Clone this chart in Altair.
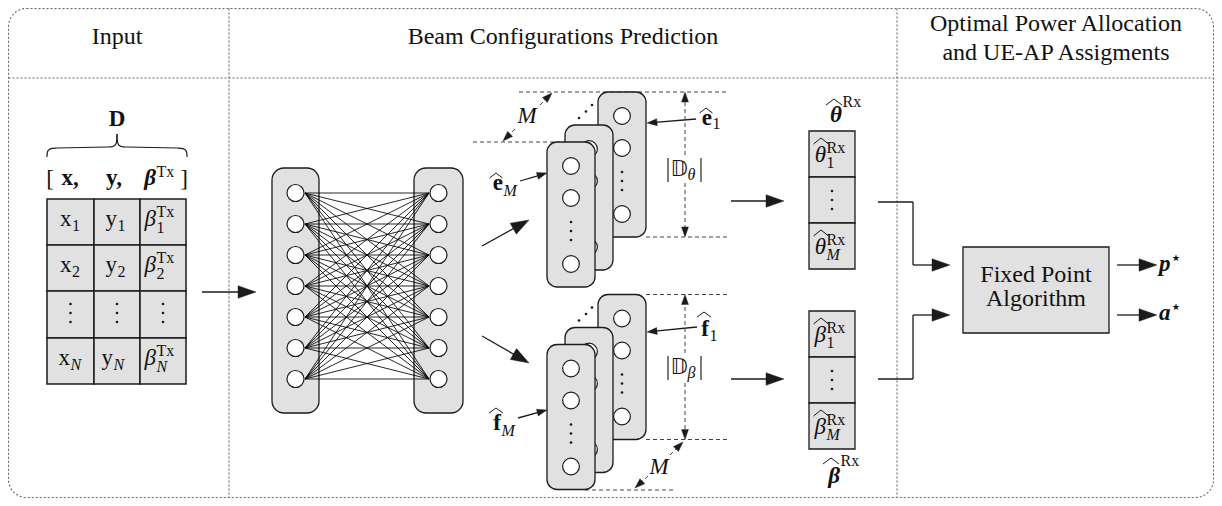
import math
import altair as alt
import pandas as pd

# ---------------- canvas (data units = page pixels) ----------------
W, H = 1206, 490
XD = [8, 1214]
YD = [8, 498]
SERIF = "Liberation Serif"
INK = "#1b1b1b"
FILL = "#e1e1e1"
DOTTED = "#666666"
HEAD = "M0,0L-1,-0.35L-1,0.35Z"

# ---------------- content arrays ----------------
header_text = ["Input", "Beam Configurations Prediction",
               "Optimal Power Allocation", "and UE-AP Assigments"]
header_x = [117, 563, 1056, 1056]
header_y = [44, 44, 31, 60]

frame_box = [8.5, 1213.5, 8.5, 497.5]
divider_x = [229, 897]
divider_y = [78]

table_cols = [47, 94, 140, 186]
table_rows = [199, 245, 291, 338, 384]
table_base = [226, 272, None, 365]
table_subs = ["1", "2", None, "N"]
table_dot_y = [304, 313, 322]

nn_blocks = [(272, 319, 168, 413), (414, 463, 168, 413)]
nn_x = [295.5, 438.5]
nn_y = [193, 224, 255, 286, 317, 348, 379]
nn_link_x = [305, 429]

card_order = ["back", "middle", "front"]
card_x0 = {"back": 598, "middle": 565, "front": 547}
card_top = {"back": 92, "middle": 125, "front": 142}
card_w, card_h = 48, 145
stack_shift = [0, 202.5]
card_node_dy = [24, 56, 122]
card_dot_dy = [80, 89, 98]
stack_dots = [(579, 118), (586, 111.5), (592, 105)]

vec_x = [809, 855]
vec_rows = [[131, 177, 223, 269], [311, 357, 403, 449]]
vec_letter = ["θ", "β"]
vec_base = [[162, None, 254], [342, None, 434]]
vec_subs = ["1", None, "M"]

fp_box = (963, 1109, 247, 333)
fp_text = ["Fixed Point", "Algorithm"]
fp_base = [282, 306]

big_arrows = [(202, 292, 256, 292), (482, 246, 529, 220), (482, 336, 529, 363),
              (731, 201, 784, 201), (731, 379, 784, 379),
              (913, 265, 950, 265), (913, 315, 950, 315),
              (1117, 265, 1157, 265), (1117, 315, 1157, 315)]
elbow_lines = [(878, 202, 913, 202), (913, 202, 913, 265),
               (878, 379, 913, 379), (913, 379, 913, 315)]
small_arrows = [(696, 119, 647, 123), (520, 181, 547, 173),
                (697, 327, 647, 332), (518, 418, 547, 410)]
dash_arrows = [(685, 155, 685, 92), (685, 183, 685, 237),
               (685, 353, 685, 294.5), (685, 383, 685, 439.5),
               (515, 129, 503, 141), (540, 105, 552, 93),
               (670, 455, 683, 442), (648, 476, 635, 488)]
dash_lines = [(519, 92, 728, 92), (473, 142, 560, 142),
              (646, 237, 728, 237), (646, 294.5, 728, 294.5),
              (646, 439.5, 728, 439.5), (585, 490, 673, 490)]
abs_bars = [(668, 158, 668, 182), (701, 158, 701, 182),
            (668, 356, 668, 380), (701, 356, 701, 380)]

brace_pts = [
    (0, [(47, 157), (47, 148.5), (57, 148)]),
    (1, [(57, 148), (107, 147)]),
    (2, [(107, 147), (117, 147), (117, 134)]),
    (3, [(117, 134), (117, 147), (127, 147)]),
    (4, [(127, 147), (177, 148)]),
    (5, [(177, 148), (187, 148.5), (187, 157)]),
]

# ---------------- helpers ----------------
XS = alt.Scale(domain=XD, nice=False, zero=False)
YS = alt.Scale(domain=YD, nice=False, zero=False, reverse=True)


def X(f):
    return alt.X(f"{f}:Q", scale=XS, axis=None)


def Y(f):
    return alt.Y(f"{f}:Q", scale=YS, axis=None)


layers = []


def rules(rows, width=1.2, color=INK, dash=None):
    df = pd.DataFrame(rows, columns=["x1", "y1", "x2", "y2"])
    kw = dict(color=color, strokeWidth=width)
    if dash:
        kw["strokeDash"] = dash
    layers.append(alt.Chart(df).mark_rule(**kw).encode(
        x=X("x1"), y=Y("y1"), x2=alt.X2("x2:Q"), y2=alt.Y2("y2:Q")))


def rects(rows, fill=FILL, stroke=INK, width=1.3, radius=0, fill_opacity=1.0, dash=None):
    df = pd.DataFrame(rows, columns=["x0", "x1", "y0", "y1"])
    kw = dict(fill=fill, stroke=stroke, strokeWidth=width, fillOpacity=fill_opacity)
    if radius:
        kw["cornerRadius"] = radius
    if dash:
        kw["strokeDash"] = dash
    layers.append(alt.Chart(df).mark_rect(**kw).encode(
        x=X("x0"), x2=alt.X2("x1:Q"), y=Y("y0"), y2=alt.Y2("y1:Q")))


def nodes(pts, size=290):
    df = pd.DataFrame(pts, columns=["x", "y"])
    layers.append(alt.Chart(df).mark_point(
        shape="circle", filled=True, fill="white", stroke=INK,
        strokeWidth=1.2, size=size, opacity=1).encode(x=X("x"), y=Y("y")))


def dots(pts, size=7):
    df = pd.DataFrame(pts, columns=["x", "y"])
    layers.append(alt.Chart(df).mark_point(
        shape="circle", filled=True, color=INK, size=size, opacity=1
    ).encode(x=X("x"), y=Y("y")))


shafts_solid, shafts_dash, heads = [], [], []


def arrow(x1, y1, x2, y2, L, dashed=False):
    d = math.hypot(x2 - x1, y2 - y1)
    ux, uy = (x2 - x1) / d, (y2 - y1) / d
    seg = (x1, y1, x2 - ux * L * 0.8, y2 - uy * L * 0.8)
    (shafts_dash if dashed else shafts_solid).append(seg)
    ang = math.degrees(math.atan2(y2 - y1, x2 - x1)) % 360
    heads.append((x2, y2, 4 * L * L, ang))


texts = []


def add(x, y, t, size=23, style="normal", weight="normal", align="center", font=SERIF):
    texts.append(dict(x=x, y=y, t=t, size=size, style=style, weight=weight,
                      align=align, font=font))


hats = []


def hat(cx, y_end, w=14, h=5):
    hats.append((cx - w / 2, y_end, cx, y_end - h))
    hats.append((cx, y_end - h, cx + w / 2, y_end))


# ---------------- build ----------------
# frame and dividers
rects([tuple(frame_box[:2]) + tuple(frame_box[2:])], fill="white", stroke=DOTTED,
      width=1.1, radius=18, fill_opacity=0, dash=[2, 2])
rules([(x, frame_box[2], x, frame_box[3]) for x in divider_x], width=1.1,
      color=DOTTED, dash=[2, 2])
rules([(frame_box[0], y, frame_box[1], y) for y in divider_y], width=1.1,
      color=DOTTED, dash=[2, 2])

# headers
for t, x, y in zip(header_text, header_x, header_y):
    add(x, y, t, 24)

# input table
cells = []
for i in range(4):
    for j in range(3):
        cells.append((table_cols[j], table_cols[j + 1], table_rows[i], table_rows[i + 1]))
rects(cells, width=1.5)
centers = [(table_cols[j] + table_cols[j + 1]) / 2 for j in range(3)]
dots([(c, y) for c in centers for y in table_dot_y])
for base, s in zip(table_base, table_subs):
    if base is None:
        continue
    sst = "italic" if s == "N" else "normal"
    jx = 70 if s == "N" else 71.5
    add(jx, base, "x", align="right")
    add(jx + 0.5, base + 5, s, 16, sst, align="left")
    jy = 113 if s == "N" else 117
    add(jy, base, "y", align="right")
    add(jy + 0.5, base + 5, s, 16, sst, align="left")
    jb = 156
    add(jb, base, "β", style="italic", align="right")
    add(jb + 0.5, base - 9, "Tx", 16, align="left")
    add(jb + 0.5, base + 7, s, 16, sst, align="left")

add(117, 126, "D", 23, weight="bold")
add(50, 186, "[", 23)
add(70, 185, "x,", 23, weight="bold")
add(114, 185, "y,", 23, weight="bold")
add(156, 185, "β", 23, "italic", "bold", "right")
add(156.5, 177, "Tx", 16, align="left")
add(184, 186, "]", 23)
layers.append(alt.Chart(pd.DataFrame(
    [dict(seg=s, i=k, x=p[0], y=p[1]) for s, pts in brace_pts for k, p in enumerate(pts)]
)).mark_line(color=INK, strokeWidth=1.2, interpolate="basis").encode(
    x=X("x"), y=Y("y"), detail="seg:N", order="i:Q"))

# neural net
rects(nn_blocks, radius=12, width=1.3)
links = [(nn_link_x[0], a, nn_link_x[1], b) for a in nn_y for b in nn_y]
rules(links, width=0.85, color="#000")
nodes([(x, y) for x in nn_x for y in nn_y])

# stacks (back -> front)
rules(dash_lines, width=1.0, color="#444", dash=[4, 3])
for depth in card_order:
    cards, cn, cd = [], [], []
    for sh in stack_shift:
        x0 = card_x0[depth]
        top = card_top[depth] + sh
        cards.append((x0, x0 + card_w, top, top + card_h))
        cx = x0 + card_w / 2
        cn += [(cx, top + dy) for dy in card_node_dy]
        cd += [(cx, top + dy) for dy in card_dot_dy]
    rects(cards, radius=10, width=1.3)
    nodes(cn, size=280)
    dots(cd)
dots([(x, y + sh) for sh in stack_shift for x, y in stack_dots])

# output vectors
vcells = []
vdots = []
for k in range(2):
    r = vec_rows[k]
    for i in range(3):
        vcells.append((vec_x[0], vec_x[1], r[i], r[i + 1]))
    mid = (r[1] + r[2]) / 2
    vdots += [(832, mid - 9), (832, mid), (832, mid + 9)]
    for base, s in zip(vec_base[k], vec_subs):
        if base is None:
            continue
        jx = 826
        add(jx, base, vec_letter[k], style="italic", align="right")
        add(jx + 0.5, base - 9, "Rx", 16, align="left")
        add(jx + 0.5, base + 6, s, 16, "italic" if s == "M" else "normal", align="left")
        hat(jx - 5, base - 18, w=15, h=6)
rects(vcells, width=1.3)
dots(vdots)

add(842, 122, "θ", 23, "italic", "bold", "right")
add(842.5, 107, "Rx", 16, align="left")
hat(834, 105, w=16, h=6)
add(840, 483, "β", 23, "italic", "bold", "right")
add(840.5, 466, "Rx", 16, align="left")
hat(831, 464, w=16, h=6)

# fixed point box
rects([fp_box], width=1.3)
for t, yb in zip(fp_text, fp_base):
    add((fp_box[0] + fp_box[1]) / 2, yb, t, 24)
add(1159, 271, "p", 23, "italic", "bold", "left")
add(1170, 264, "⋆", 19, align="left", font="DejaVu Sans")
add(1159, 320, "a", 23, "italic", "bold", "left")
add(1170, 313, "⋆", 19, align="left", font="DejaVu Sans")

# labels around the stacks
add(712, 125, "e", 23, weight="bold", align="right")
add(712.5, 129, "1", 16, align="left")
hat(706, 113, w=13, h=5)
add(503, 190, "e", 23, weight="bold", align="right")
add(503.5, 196, "M", 16, "italic", align="left")
hat(496, 178, w=13, h=5)
add(709, 336, "f", 23, weight="bold", align="right")
add(709.5, 341, "1", 16, align="left")
hat(704, 317, w=14, h=5)
add(501, 430, "f", 23, weight="bold", align="right")
add(501.5, 436, "M", 16, "italic", align="left")
hat(496, 413, w=14, h=5)
for yb, sub in [(176, "θ"), (374, "β")]:
    add(679, yb, "𝔻", 21, font="DejaVu Sans")
    add(687.5, yb + 4, sub, 16, "italic", align="left")
rules(abs_bars, width=1.1, color="#111")
add(527, 123, "M", 23, "italic")
add(659, 474, "M", 23, "italic")

# arrows
for a in big_arrows:
    arrow(*a, L=18)
for a in small_arrows:
    arrow(*a, L=10)
for a in dash_arrows:
    arrow(*a, L=10, dashed=True)
rules(elbow_lines, width=1.3)
rules(shafts_solid, width=1.3)
rules(shafts_dash, width=1.0, color="#444", dash=[4, 3])
layers.append(alt.Chart(pd.DataFrame(heads, columns=["x", "y", "s", "a"])).mark_point(
    shape=HEAD, filled=True, color=INK, opacity=1, strokeWidth=0.4, stroke=INK
).encode(x=X("x"), y=Y("y"), size=alt.Size("s:Q", scale=None),
         angle=alt.Angle("a:Q", scale=None)))
rules(hats, width=1.0)

# texts grouped by font settings
tdf = pd.DataFrame(texts)
for (st, wt, al, fn), g in tdf.groupby(["style", "weight", "align", "font"]):
    layers.append(alt.Chart(g.reset_index(drop=True)).mark_text(
        font=fn, fontStyle=st, fontWeight=wt, align=al, baseline="alphabetic", color="#111"
    ).encode(x=X("x"), y=Y("y"), text="t:N", size=alt.Size("size:Q", scale=None)))

chart = alt.layer(*layers).properties(
    width=W, height=H, padding=0, autosize="none", background="white"
).configure_view(strokeWidth=0)

chart.save("out.html", embed_options={"renderer": "svg", "actions": False})
